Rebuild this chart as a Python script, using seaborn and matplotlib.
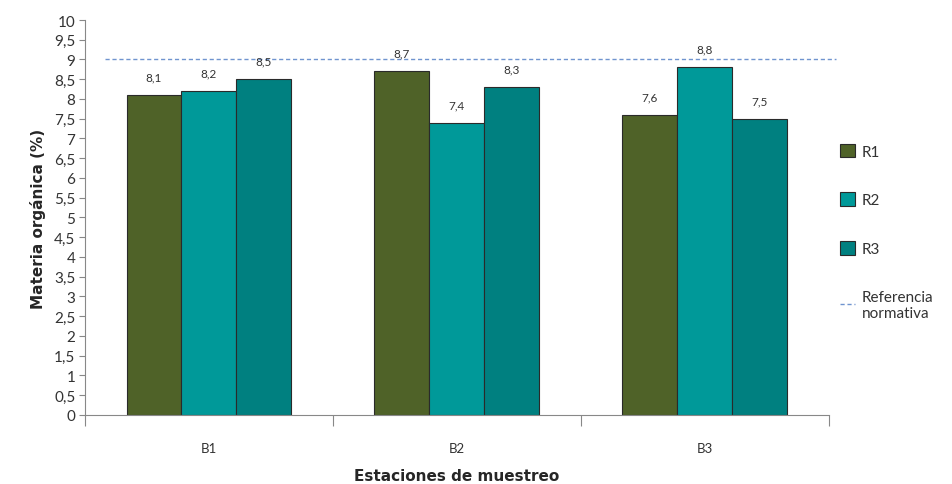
import seaborn as sns
import matplotlib.pyplot as plt
import pandas as pd
from matplotlib.lines import Line2D
from matplotlib.patches import Patch
from matplotlib.ticker import FuncFormatter, FixedLocator

estaciones = ['B1', 'B2', 'B3']
r1 = [8.1, 8.7, 7.6]
r2 = [8.2, 7.4, 8.8]
r3 = [8.5, 8.3, 7.5]
referencia = 9.0
series = ['R1', 'R2', 'R3']
colores = ['#4F6228', '#009999', '#008080']

df = pd.DataFrame({
    'estacion': estaciones * 3,
    'valor': r1 + r2 + r3,
    'serie': [s for s in series for _ in estaciones],
})

sns.set_style('white')
plt.rcParams['font.family'] = ['Lato', 'DejaVu Sans']

fig = plt.figure(figsize=(9.52, 4.85), dpi=100)
ax = fig.add_axes([0.0893, 0.1423, 0.781, 0.8144])

sns.barplot(data=df, x='estacion', y='valor', hue='serie', palette=colores, saturation=1,
            width=0.665, edgecolor='#2a2a2a', linewidth=0.8, ax=ax, legend=False)

for cont in ax.containers:
    ax.bar_label(cont, labels=[f'{v:.1f}'.replace('.', ',') for v in cont.datavalues],
                 padding=9, fontsize=8.5, color='#333333')

ax.axhline(referencia, xmin=0.027, xmax=1.01, color='#7094cf', linestyle=(0, (3, 2)),
           linewidth=1.0, clip_on=False)

ax.set_ylim(0, 10)
ax.set_xlim(-0.5, 2.5)
ax.set_yticks([i * 0.5 for i in range(21)])
ax.yaxis.set_major_formatter(FuncFormatter(lambda v, p: f'{v:g}'.replace('.', ',')))
ax.xaxis.set_minor_locator(FixedLocator([-0.5, 0.5, 1.5, 2.5]))
ax.tick_params(axis='y', which='major', left=True, length=4, width=0.8, color='#888888',
               labelsize=11, labelcolor='#333333', pad=3)
ax.tick_params(axis='x', which='major', bottom=False, labelsize=9.5, labelcolor='#333333', pad=16)
ax.tick_params(axis='x', which='minor', bottom=True, length=8, width=0.8, color='#888888')

for s in ['top', 'right']:
    ax.spines[s].set_visible(False)
for s in ['left', 'bottom']:
    ax.spines[s].set_color('#888888')
    ax.spines[s].set_linewidth(0.8)

ax.set_ylabel('Materia orgánica (%)', fontsize=11, fontweight='bold', family='DejaVu Sans',
              labelpad=6)
ax.set_xlabel('Estaciones de muestreo', fontsize=11, fontweight='bold', family='DejaVu Sans',
              labelpad=10)

handles = [Patch(facecolor=c, edgecolor='#2a2a2a', linewidth=0.8) for c in colores]
handles.append(Line2D([0], [0], color='#7094cf', linestyle=(0, (3, 2)), linewidth=1.0))
labels = series + ['Referencia\nnormativa']
fig.legend(handles, labels, loc='upper left', bbox_to_anchor=(0.868, 0.73),
           frameon=False, fontsize=11, labelspacing=2.2, handlelength=1.0,
           handleheight=1.0, handletextpad=0.4, labelcolor='#333333')

fig.savefig('out.png', dpi=100)
